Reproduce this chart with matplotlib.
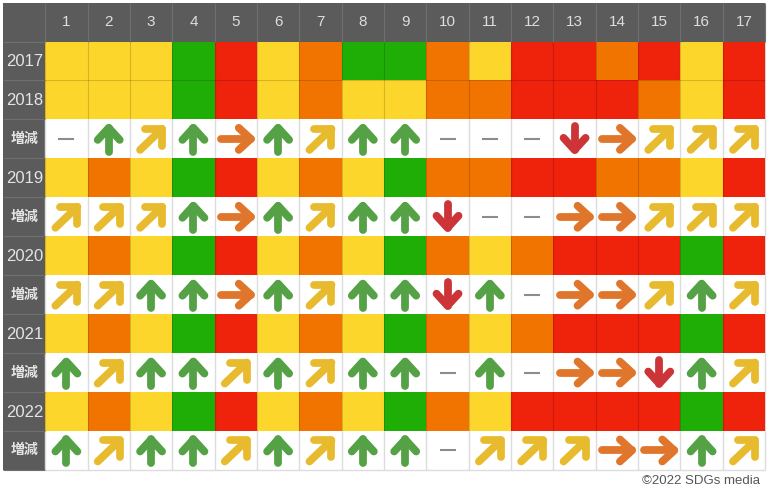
import numpy as np
import matplotlib
matplotlib.use("Agg")
import matplotlib.pyplot as plt
from matplotlib.colors import ListedColormap

plt.rcParams['font.family'] = ['Liberation Sans', 'Noto Sans CJK JP', 'DejaVu Sans']

# Datos
goles = [str(i) for i in range(1, 18)]
filas = ["2017", "2018", "増減", "2019", "増減", "2020", "増減", "2021", "増減", "2022", "増減"]

# y=amarillo, o=naranja, r=rojo, g=verde
niveles = {
    "2017": "y y y g r y o g g o y r r o r y r",
    "2018": "y y y g r y o y y o o r r r o y r",
    "2019": "y o y g r y o y g o o r r o o y r",
    "2020": "y o y g r y o y g o y o r r r g r",
    "2021": "y o y g r y o y g o y o r r r g r",
    "2022": "y o y g r y o y g o y r r r r g r",
}
# U=sube, N=sube en diagonal, E=igual, D=baja, -=sin dato
cambios = [
    "- U N U E U N U U - - - D E N N N",
    "N N N U E U N U U D - - E E N N N",
    "N N U U E U N U U D U - E E N U N",
    "U N U U N U N U U - U - E E D U N",
    "U N U U N U N U U - N N N E E U N",
]

colores = {"y": "#fdd62c", "o": "#f27400", "r": "#ef220c", "g": "#1fae06"}
codigos = list(colores)
color_flecha = {"U": "#55a145", "N": "#e8bb2e", "E": "#e0762b", "D": "#cc3437"}

# Forma de cada flecha en pixeles respecto al centro de la celda
formas = {
    "U": ([(0, 13), (0, -11)], [(-11, 1), (0, -11), (11, 1)]),
    "D": ([(0, -13), (0, 11)], [(-11, -1), (0, 11), (11, -1)]),
    "E": ([(-15, 0), (15, 0)], [(3, -11), (15, 0), (3, 11)]),
    "N": ([(-11, 11), (11, -10)], [(-6, -10), (11, -10), (11, 7)]),
}

x0, ancho0, ancho = 3, 42.2, 42.35
y0, alto0, alto = 3, 38.5, 38.95
bordes_x = np.r_[x0, x0 + ancho0 + ancho * np.arange(18)]
bordes_y = np.r_[y0, y0 + alto0 + alto * np.arange(12)]

fig = plt.figure(figsize=(7.68, 4.88), dpi=100)
ax = fig.add_axes([0, 0, 1, 1])
ax.set_xlim(0, 768)
ax.set_ylim(488, 0)
ax.axis("off")

# Cabecera y primera columna
gris = "#5b5b5b"
ax.fill_between(bordes_x[[0, -1]], bordes_y[0], bordes_y[1], color=gris, lw=0)
ax.fill_between(bordes_x[[0, 1]], bordes_y[0], bordes_y[-1], color=gris, lw=0)

i_cambio = 0
for f, nombre in enumerate(filas):
    y1, y2 = bordes_y[f + 1], bordes_y[f + 2]
    ym = (y1 + y2) / 2
    if nombre in niveles:
        fila = [codigos.index(c) for c in niveles[nombre].split()]
        ax.pcolormesh(bordes_x[1:], [y1, y2], [fila], cmap=ListedColormap(list(colores.values())),
                      vmin=0, vmax=3, edgecolors="none", zorder=2)
        ax.vlines(bordes_x[1:], y1, y2, color="#00000028", lw=0.8, zorder=3)
        ax.text(24.5, ym + 0.5, nombre, color="#e4e4e4", fontsize=12, ha="center", va="center")
    else:
        ax.text(24.5, ym, nombre, color="#e4e4e4", fontsize=10, fontweight="bold",
                ha="center", va="center")
        ax.vlines(bordes_x[1:], y1, y2, color="#dcdcdc", lw=1)
        for c, cod in enumerate(cambios[i_cambio].split()):
            xm = (bordes_x[c + 1] + bordes_x[c + 2]) / 2
            if cod == "-":
                ax.plot([xm - 7, xm + 7], [ym, ym], color="#8c8c8c", lw=1.5)
                continue
            tallo, cabeza = formas[cod]
            for trazo, grosor in ((tallo, 5.6), (cabeza, 5.6)):
                px, py = zip(*trazo)
                ax.plot(xm + np.array(px), ym + np.array(py), color=color_flecha[cod], lw=grosor,
                        solid_capstyle="round", solid_joinstyle="round", zorder=4)
        i_cambio += 1

# Separacion entre filas de color contiguas (2017 / 2018)
ax.hlines(bordes_y[2], bordes_x[1], bordes_x[-1], color="#00000028", lw=0.8, zorder=3)
ax.hlines(bordes_y[-1], bordes_x[1], bordes_x[-1], color="#dcdcdc", lw=1)

# Lineas de la cabecera
ax.vlines(bordes_x[1:], bordes_y[0], bordes_y[1], color="#6f6f6f", lw=0.8)
ax.hlines(bordes_y[1:], bordes_x[0], bordes_x[1], color="#6f6f6f", lw=0.8)
for c, txt in enumerate(goles):
    ax.text((bordes_x[c + 1] + bordes_x[c + 2]) / 2, 22.5, txt, color="#dedede", fontsize=11,
            ha="center", va="center")

ax.text(760, 480.5, "©2022 SDGs media", color="#555555", fontsize=9.5, ha="right", va="center")

fig.savefig("out.png", dpi=100)
